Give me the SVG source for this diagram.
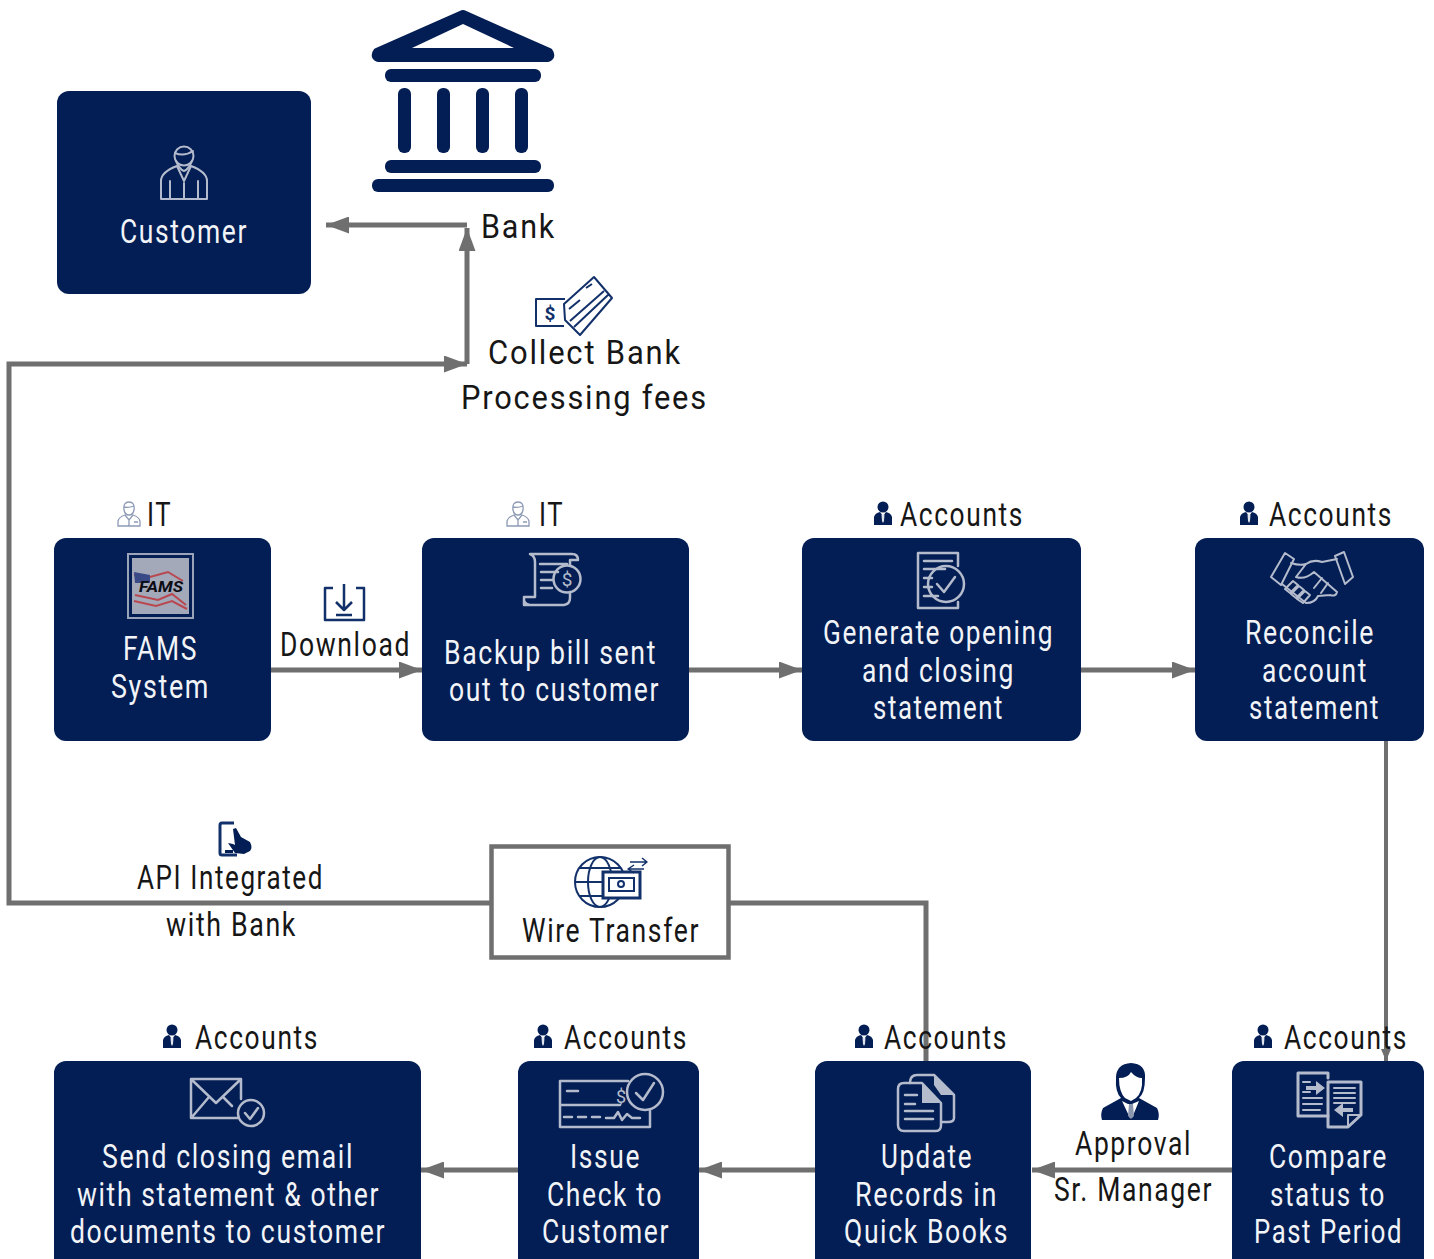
<svg xmlns="http://www.w3.org/2000/svg" width="1434" height="1259" viewBox="0 0 1434 1259">
<style>
text{font-family:Roboto,"Liberation Sans",sans-serif;font-size:34px;fill:#161616;stroke:none;letter-spacing:2px}
.w{fill:#f2f4f8;font-size:33px}
.box{fill:#031e54}
.c{fill:none;stroke:#6f6f6f;stroke-width:5}
.i{fill:none;stroke:#b4bbcc;stroke-width:2;stroke-linejoin:round;stroke-linecap:round}
.n{fill:none;stroke:#12306a;stroke-width:2;stroke-linejoin:round}
.f{fill:#031e54}
</style>
<defs>
<marker id="a" viewBox="0 0 23 17" refX="23" refY="8.500000" markerUnits="userSpaceOnUse" markerWidth="23" markerHeight="17" orient="auto"><path d="M0 0L23 8.500000L0 17z" fill="#6f6f6f"/></marker>
<marker id="s" viewBox="0 0 12 10" refX="12" refY="5" markerUnits="userSpaceOnUse" markerWidth="12" markerHeight="10" orient="auto"><path d="M0 0L12 5L0 10z" fill="#6f6f6f"/></marker>
<g id="acc"><circle cx="9" cy="6" r="5.500000" fill="#031e54"/><path d="M0 24V16Q1 12 6 11L9 15L12 11Q17 12 18 16V24z" fill="#031e54"/><path d="M7.500000 13.500000H10.500000L10 20L9 22L8 20z" fill="#dfe3ec"/></g>
<g id="it" fill="none" stroke="#8d9ab5" stroke-width="1.300000"><path d="M7 9Q6 1 12 1Q18 1 17 9Q16 14 12 14Q8 14 7 9zM7 6Q12 7 17 5"/><path d="M1 25V20Q2 16 8 14L12 19L16 14Q22 16 23 20V25zM12 19V25M17 21H21"/></g>
</defs>

<g id="connectors">
<path class="c" d="M467 225H326" marker-end="url(#a)"/>
<path class="c" d="M467 364V228" marker-end="url(#a)"/>
<path class="c" d="M491 903H9V364H467" marker-end="url(#a)"/>
<path class="c" d="M271 670H422" marker-end="url(#a)"/>
<path class="c" d="M689 670H802" marker-end="url(#a)"/>
<path class="c" d="M1081 670H1195" marker-end="url(#a)"/>
<path class="c" d="M1386 741V1061" marker-end="url(#s)" style="stroke-width:4"/>
<path class="c" d="M1232 1170H1032" marker-end="url(#a)"/>
<path class="c" d="M815 1170H699" marker-end="url(#a)"/>
<path class="c" d="M518 1170H421" marker-end="url(#a)"/>
<path class="c" d="M729 903H926V1061"/>
</g>

<g id="customer">
<rect class="box" x="57" y="91" width="254" height="203" rx="12"/>
<g class="i"><circle cx="184" cy="156" r="9.500000"/><path d="M175 153Q184 157 193 151M176 161Q180 170 184 171Q188 170 192 161"/><path d="M161 199V181Q161 172 177 166L184 181L191 166Q207 172 207 181V199zM170 181V199M198 181V199M184 183V198"/></g>
<text class="w" x="120" y="243" textLength="128" lengthAdjust="spacingAndGlyphs">Customer</text>
</g>

<g id="bank">
<path d="M463 14L549 52Q552 56 548 58H378Q374 56 377 52z" fill="#031e54" stroke="#031e54" stroke-width="8" stroke-linejoin="round"/>
<path d="M463 24L412 48H514z" fill="#fff"/>
<rect class="f" x="385" y="69" width="156" height="13" rx="6"/>
<rect class="f" x="398" y="88" width="13" height="65" rx="6"/>
<rect class="f" x="437" y="88" width="13" height="65" rx="6"/>
<rect class="f" x="476" y="88" width="13" height="65" rx="6"/>
<rect class="f" x="515" y="88" width="13" height="65" rx="6"/>
<rect class="f" x="385" y="160" width="156" height="13" rx="6"/>
<rect class="f" x="372" y="179" width="182" height="13" rx="6"/>
<text x="481" y="238" textLength="75" lengthAdjust="spacingAndGlyphs">Bank</text>
</g>

<g id="collect-fees">
<g class="n"><path d="M565 299H536V326H564"/><path d="M564 304L594 277L612 298L580 335L565 320zM570 321L604 291M574 327L608 295M569 309L580 300M586 288L592 284"/></g>
<text x="550" y="320" text-anchor="middle" style="font-size:19px;font-weight:700;fill:#12306a;letter-spacing:0">$</text>
<text x="488" y="364" textLength="194" lengthAdjust="spacingAndGlyphs">Collect Bank</text>
<text x="461" y="409" textLength="247" lengthAdjust="spacingAndGlyphs">Processing fees</text>
</g>

<g id="fams">
<use href="#it" x="117" y="501"/>
<text x="147" y="526" textLength="25" lengthAdjust="spacingAndGlyphs">IT</text>
<rect class="box" x="54" y="538" width="217" height="203" rx="12"/>
<rect x="128" y="554" width="65" height="64" fill="#031e54" stroke="#9aa3b8" stroke-width="2"/>
<rect x="132" y="558" width="57" height="56" fill="#a4a9ba"/>
<path d="M134 575L150 577L168 572L183 581M135 595L158 600L172 594L186 605M134 601L156 606L172 601L187 609" fill="none" stroke="#b9474f" stroke-width="2"/>
<path d="M134 572L150 575V583H135z" fill="#3a4a86"/>
<text x="139" y="592" textLength="44" lengthAdjust="spacingAndGlyphs" style="font-size:15px;font-weight:700;font-style:italic;fill:#0b0b14;letter-spacing:0">FAMS</text>
<text class="w" x="123" y="660" textLength="75" lengthAdjust="spacingAndGlyphs">FAMS</text>
<text class="w" x="111" y="698" textLength="99" lengthAdjust="spacingAndGlyphs">System</text>
</g>

<g id="download">
<path class="n" d="M333 588H325V620H364V588H356M344 584V609M336 602L344 610L352 602M336 615H352" style="stroke-width:2.500000"/>
<text x="280" y="656" textLength="131" lengthAdjust="spacingAndGlyphs" style="font-size:33px">Download</text>
</g>

<g id="backup">
<use href="#it" x="506" y="501"/>
<text x="539" y="526" textLength="25" lengthAdjust="spacingAndGlyphs">IT</text>
<rect class="box" x="422" y="538" width="267" height="203" rx="12"/>
<g class="i" style="stroke-width:2.500000"><path d="M530 554H572Q578 554 578 560H570V566M530 554Q535 556 535 562V597H524V605H564Q570 604 570 598V592M524 597Q523 604 530 605"/><path d="M540 564H567M541 572H558M541 580H552M541 588H552"/><circle cx="567" cy="579" r="13.500000"/></g>
<text x="567" y="586" text-anchor="middle" style="font-size:19px;fill:#b4bbcc;letter-spacing:0">$</text>
<text class="w" x="444" y="664" textLength="213" lengthAdjust="spacingAndGlyphs">Backup bill sent</text>
<text class="w" x="449" y="701" textLength="211" lengthAdjust="spacingAndGlyphs">out to customer</text>
</g>

<g id="generate">
<use href="#acc" x="874" y="501"/>
<text x="900" y="526" textLength="124" lengthAdjust="spacingAndGlyphs" style="font-size:33px">Accounts</text>
<rect class="box" x="802" y="538" width="279" height="203" rx="12"/>
<g class="i" style="stroke-width:2.500000"><path d="M958 566V553H918V608H958V602M924 561H952M924 569H945M924 578H932M924 587H932M924 596H938"/><circle cx="946" cy="584" r="18"/><path d="M937 584L944 592L955 577"/></g>
<text class="w" x="823" y="644" textLength="231" lengthAdjust="spacingAndGlyphs">Generate opening</text>
<text class="w" x="862" y="682" textLength="153" lengthAdjust="spacingAndGlyphs">and closing</text>
<text class="w" x="873" y="719" textLength="131" lengthAdjust="spacingAndGlyphs">statement</text>
</g>

<g id="reconcile">
<use href="#acc" x="1240" y="501"/>
<text x="1269" y="526" textLength="124" lengthAdjust="spacingAndGlyphs" style="font-size:33px">Accounts</text>
<rect class="box" x="1195" y="538" width="229" height="203" rx="12"/>
<g class="i"><path d="M1271 577L1285 553L1294 559L1281 585zM1353 577L1344 552L1335 556L1345 584zM1291 563Q1300 566 1306 564Q1313 559 1322 562L1337 559M1306 564L1296 577Q1305 580 1314 572L1337 592Q1336 597 1330 595M1282 584L1306 603Q1315 603 1318 596L1330 595"/><path d="M1285 589L1293 581L1298 585L1290 593zM1291 594L1299 586L1304 590L1296 598zM1297 599L1305 591L1310 595L1303 603zM1322 578L1314 588M1328 583L1321 593"/></g>
<text class="w" x="1245" y="644" textLength="130" lengthAdjust="spacingAndGlyphs">Reconcile</text>
<text class="w" x="1262" y="682" textLength="106" lengthAdjust="spacingAndGlyphs">account</text>
<text class="w" x="1249" y="719" textLength="131" lengthAdjust="spacingAndGlyphs">statement</text>
</g>

<g id="api">
<path d="M234 823H222Q220 823 220 825V853Q220 855 222 855H237" fill="none" stroke="#12306a" stroke-width="3"/>
<path class="f" d="M233 829L236 828L241 837L250 842Q253 848 250 851L244 854L235 853L228 843L233 844L235 845z"/>
<rect class="f" x="225" y="850" width="8" height="3"/>
<text x="137" y="889" textLength="187" lengthAdjust="spacingAndGlyphs" style="font-size:33px">API Integrated</text>
<text x="166" y="936" textLength="131" lengthAdjust="spacingAndGlyphs" style="font-size:33px">with Bank</text>
</g>

<g id="wire">
<rect x="491.500000" y="846.500000" width="237" height="111" fill="#fff" stroke="#6f6f6f" stroke-width="4.500000"/>
<g class="n"><circle cx="600" cy="882" r="25"/><ellipse cx="600" cy="882" rx="12" ry="25"/><path d="M575 882H625M579 868H621M579 896H621"/></g>
<rect x="603" y="872" width="37" height="26" fill="#fff" stroke="#12306a" stroke-width="3"/>
<rect x="609" y="878" width="25" height="13" fill="none" stroke="#12306a" stroke-width="2"/>
<circle cx="621" cy="884" r="3" fill="none" stroke="#12306a" stroke-width="2"/>
<path class="n" d="M630 862H646M642 858L647 862L642 866M634 865L628 869L634 873M628 869H644" style="stroke-width:1.500000"/>
<text x="522" y="942" textLength="178" lengthAdjust="spacingAndGlyphs" style="font-size:33px">Wire Transfer</text>
</g>

<g id="send">
<use href="#acc" x="163" y="1024"/>
<text x="195" y="1049" textLength="124" lengthAdjust="spacingAndGlyphs" style="font-size:33px">Accounts</text>
<rect class="box" x="54" y="1061" width="367" height="220" rx="12"/>
<g class="i" style="stroke-width:2.500000"><path d="M241 1099V1079H191V1118H238M192 1080L216 1103L240 1080M192 1117L209 1097M223 1097L232 1106"/><circle cx="251" cy="1113" r="13"/><path d="M245 1113L250 1119L258 1108"/></g>
<text class="w" x="102" y="1168" textLength="252" lengthAdjust="spacingAndGlyphs">Send closing email</text>
<text class="w" x="77" y="1206" textLength="303" lengthAdjust="spacingAndGlyphs">with statement &amp; other</text>
<text class="w" x="70" y="1243" textLength="316" lengthAdjust="spacingAndGlyphs">documents to customer</text>
</g>

<g id="issue">
<use href="#acc" x="534" y="1024"/>
<text x="564" y="1049" textLength="124" lengthAdjust="spacingAndGlyphs" style="font-size:33px">Accounts</text>
<rect class="box" x="518" y="1061" width="181" height="220" rx="12"/>
<g class="i" style="stroke-width:2.500000"><path d="M628 1081H560V1127H650V1110M567 1091H578M560 1105H620M564 1117H572M578 1117H586M592 1117H600M606 1118H614L618 1112L622 1120L627 1114L632 1118H640"/><circle cx="645" cy="1092" r="18"/><path d="M636 1093L643 1100L654 1083"/></g>
<text x="621" y="1103" text-anchor="middle" style="font-size:18px;fill:#b4bbcc;letter-spacing:0">$</text>
<text class="w" x="570" y="1168" textLength="71" lengthAdjust="spacingAndGlyphs">Issue</text>
<text class="w" x="547" y="1206" textLength="116" lengthAdjust="spacingAndGlyphs">Check to</text>
<text class="w" x="542" y="1243" textLength="128" lengthAdjust="spacingAndGlyphs">Customer</text>
</g>

<g id="update">
<use href="#acc" x="855" y="1024"/>
<text x="884" y="1049" textLength="124" lengthAdjust="spacingAndGlyphs" style="font-size:33px">Accounts</text>
<rect class="box" x="815" y="1061" width="216" height="220" rx="12"/>
<g class="i" style="stroke-width:2.500000"><path d="M910 1083Q910 1075 917 1075H934L954 1095V1118Q954 1122 948 1122H942"/><path d="M898 1089Q898 1083 904 1083H922L941 1103V1125Q941 1131 936 1131H904Q898 1131 898 1125z"/><path d="M905 1095H917M905 1104H915M905 1111H933M905 1119H933"/></g>
<path d="M922 1083L941 1103H922zM934 1075L954 1095H941L934 1085z" fill="#b4bbcc"/>
<text class="w" x="881" y="1168" textLength="92" lengthAdjust="spacingAndGlyphs">Update</text>
<text class="w" x="855" y="1206" textLength="143" lengthAdjust="spacingAndGlyphs">Records in</text>
<text class="w" x="844" y="1243" textLength="165" lengthAdjust="spacingAndGlyphs">Quick Books</text>
</g>

<g id="approval">
<path class="f" d="M1131 1063Q1146 1064 1145 1078Q1145 1093 1139 1098L1157 1108Q1160 1114 1158 1120H1102Q1100 1114 1103 1108L1121 1098Q1115 1092 1116 1078Q1116 1064 1131 1063z"/>
<path d="M1119 1078Q1128 1078 1131 1072Q1136 1078 1142 1078Q1143 1092 1136 1098L1131 1101L1125 1098Q1119 1092 1119 1078zM1122 1101L1130 1118H1132L1139 1101L1132 1104H1128z" fill="#fff"/>
<path d="M1129 1104H1133L1134 1116L1131 1119L1128 1116z" fill="#8a96ae"/>
<text x="1075" y="1155" textLength="117" lengthAdjust="spacingAndGlyphs" style="font-size:33px">Approval</text>
<text x="1054" y="1201" textLength="159" lengthAdjust="spacingAndGlyphs" style="font-size:33px">Sr. Manager</text>
</g>

<g id="compare">
<use href="#acc" x="1254" y="1024"/>
<text x="1284" y="1049" textLength="124" lengthAdjust="spacingAndGlyphs" style="font-size:33px">Accounts</text>
<rect class="box" x="1232" y="1061" width="192" height="220" rx="12"/>
<g class="i" style="stroke-width:3"><path d="M1328 1078V1073H1298V1116H1328"/><path d="M1328 1082H1361V1115L1348 1127H1328z"/><path d="M1348 1127V1115H1361" style="stroke-width:2"/></g>
<g class="i"><path d="M1303 1098H1322M1303 1104H1322M1303 1110H1320M1303 1082H1310M1303 1092H1310M1334 1088H1355M1334 1093H1355M1334 1098H1355M1334 1103H1355"/></g>
<path d="M1306 1086H1316V1081L1325 1088L1316 1095V1090H1306zM1353 1108H1343V1103L1334 1110L1343 1117V1112H1353z" fill="#b4bbcc"/>
<text class="w" x="1269" y="1168" textLength="119" lengthAdjust="spacingAndGlyphs">Compare</text>
<text class="w" x="1270" y="1206" textLength="116" lengthAdjust="spacingAndGlyphs">status to</text>
<text class="w" x="1254" y="1243" textLength="149" lengthAdjust="spacingAndGlyphs">Past Period</text>
</g>
</svg>
